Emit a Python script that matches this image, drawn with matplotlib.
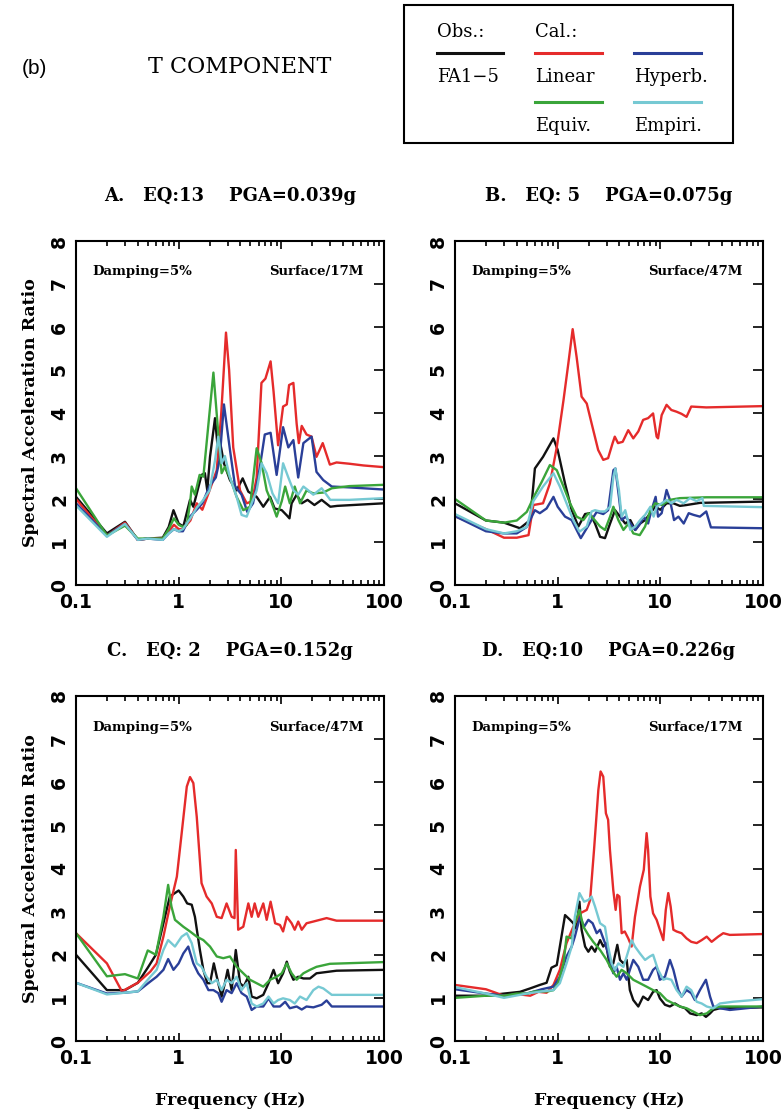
import matplotlib.pyplot as plt
from matplotlib.lines import Line2D
from matplotlib.patches import Rectangle

# colours of the five curves
c_obs = '#111111'
c_lin = '#e52b2b'
c_hyp = '#2a3f98'
c_equ = '#3aa53a'
c_emp = '#76c9d3'

# ---- panel A : EQ 13 ----
a_obs_f = [0.1, 0.2, 0.3, 0.4, 0.5, 0.7, 0.8, 0.89, 1.0, 1.11, 1.29, 1.39, 1.67, 1.8, 1.9, 2.02, 2.26, 2.43, 2.56,
           2.76, 3.16, 3.67, 4.2, 4.77, 5.75, 6.67, 7.77, 8.6, 10.1, 11.3, 12.0, 12.6, 14.1, 15.8, 18, 21, 24.7, 30, 35, 100]
a_obs_v = [2.05, 1.2, 1.47, 1.05, 1.08, 1.1, 1.35, 1.74, 1.43, 1.36, 1.98, 1.82, 2.56, 2.6, 2.2, 2.98, 3.88, 3.06, 3.26,
           2.83, 2.44, 2.2, 2.48, 2.17, 2.05, 1.82, 2.05, 1.78, 1.74, 1.62, 1.55, 1.9, 2.1, 1.9, 1.98, 1.86, 1.98, 1.82, 1.84, 1.9]
a_lin_f = [0.1, 0.2, 0.3, 0.4, 0.5, 0.7, 0.8, 0.9, 1.0, 1.1, 1.3, 1.5, 1.7, 2.0, 2.35, 2.6, 2.89, 3.1, 3.4, 3.96, 4.6,
           5.2, 5.75, 6.4, 7.0, 7.86, 8.4, 9.3, 10.4, 11.3, 11.9, 13.1, 14.1, 14.8, 15.8, 17.6, 19.7, 22, 25.3, 29.7, 34.5, 46, 63, 100]
a_lin_v = [2.0, 1.15, 1.45, 1.05, 1.08, 1.08, 1.25, 1.4, 1.3, 1.3, 1.5, 1.9, 1.75, 2.2, 2.67, 4.0, 5.87, 5.0, 3.2, 2.2, 1.9,
           1.95, 2.5, 4.7, 4.8, 5.2, 4.5, 3.25, 4.15, 4.2, 4.65, 4.7, 3.75, 3.3, 3.7, 3.5, 3.45, 2.98, 3.3, 2.8, 2.85, 2.82, 2.78, 2.74]
a_hyp_f = [0.1, 0.2, 0.3, 0.4, 0.5, 0.7, 0.8, 0.9, 1.0, 1.1, 1.3, 1.5, 1.7, 2.0, 2.3, 2.5, 2.76, 3.16, 3.54, 4.1, 4.66,
           5.3, 5.96, 6.9, 7.86, 9.0, 10.4, 11.7, 13.1, 14.6, 16.4, 19.7, 22, 25.6, 31, 46, 100]
a_hyp_v = [1.9, 1.15, 1.42, 1.05, 1.08, 1.05, 1.2, 1.3, 1.25, 1.25, 1.6, 1.75, 1.9, 2.3, 2.5, 2.9, 4.2, 3.14, 2.3, 2.1, 1.7,
           1.9, 2.5, 3.5, 3.54, 2.56, 3.67, 3.2, 3.37, 2.5, 3.3, 3.45, 2.63, 2.44, 2.29, 2.27, 2.22]
a_equ_f = [0.1, 0.2, 0.3, 0.4, 0.5, 0.7, 0.8, 0.9, 1.0, 1.1, 1.2, 1.29, 1.34, 1.44, 1.6, 1.74, 2.18, 2.43, 2.62, 2.82,
           3.16, 3.67, 4.26, 4.95, 5.75, 6.43, 7.2, 8.1, 9.0, 10.1, 10.9, 12.1, 13.5, 15.2, 17.6, 20.5, 25.6, 31, 46, 100]
a_equ_v = [2.25, 1.15, 1.38, 1.08, 1.08, 1.08, 1.3, 1.55, 1.4, 1.35, 1.4, 1.9, 2.29, 2.1, 2.56, 2.52, 4.94, 3.53, 2.6, 2.75,
           2.5, 2.05, 1.74, 1.82, 3.18, 2.83, 2.2, 1.9, 1.59, 1.95, 2.29, 1.9, 2.29, 1.9, 2.2, 2.13, 2.15, 2.25, 2.3, 2.33]
a_emp_f = [0.1, 0.2, 0.3, 0.4, 0.5, 0.7, 0.8, 0.9, 1.0, 1.1, 1.3, 1.5, 1.7, 2.0, 2.26, 2.43, 2.62, 2.82, 3.16, 3.67, 4.1,
           4.6, 5.14, 5.75, 6.43, 7.2, 8.2, 9.3, 10.4, 11.7, 13.1, 14.6, 16.4, 18.3, 20.5, 24.7, 30, 46, 100]
a_emp_v = [1.85, 1.12, 1.42, 1.05, 1.08, 1.05, 1.2, 1.3, 1.25, 1.3, 1.55, 1.8, 1.95, 2.2, 2.9, 3.45, 2.83, 3.0, 2.5, 2.05, 1.63,
           1.59, 1.9, 2.2, 2.83, 2.6, 2.13, 1.9, 2.83, 2.5, 2.2, 2.1, 2.29, 2.2, 2.1, 2.25, 1.98, 1.98, 2.02]

# ---- panel B : EQ 5 ----
b_obs_f = [0.1, 0.2, 0.3, 0.43, 0.54, 0.6, 0.72, 0.91, 1.0, 1.18, 1.37, 1.59, 1.85, 2.07, 2.31, 2.59, 2.89, 3.24, 3.62,
           4.05, 4.55, 5.1, 5.7, 6.36, 7.1, 8.0, 8.9, 10, 11.5, 13.4, 15.5, 18, 24.3, 100]
b_obs_v = [1.9, 1.5, 1.45, 1.32, 1.51, 2.71, 2.98, 3.41, 3.14, 2.36, 1.74, 1.36, 1.65, 1.67, 1.43, 1.12, 1.09, 1.43, 1.74,
           1.59, 1.43, 1.51, 1.28, 1.43, 1.51, 1.67, 1.82, 1.75, 1.9, 1.9, 1.84, 1.86, 1.91, 1.94]
b_lin_f = [0.1, 0.2, 0.3, 0.4, 0.52, 0.58, 0.72, 0.84, 0.98, 1.14, 1.27, 1.4, 1.53, 1.71, 1.92, 2.14, 2.48, 2.78, 3.1,
           3.43, 3.6, 3.87, 4.3, 4.87, 5.45, 6.1, 6.8, 7.6, 8.5, 9.2, 9.5, 10.3, 11.5, 12.8, 14.4, 16.1, 18, 20, 28, 100]
b_lin_v = [1.6, 1.3, 1.1, 1.1, 1.16, 1.86, 1.9, 2.36, 3.2, 4.3, 5.15, 5.95, 5.3, 4.38, 4.22, 3.76, 3.14, 2.91, 2.95,
           3.3, 3.45, 3.3, 3.33, 3.6, 3.41, 3.57, 3.84, 3.88, 3.99, 3.45, 3.41, 3.95, 4.19, 4.07, 4.03, 3.98, 3.91, 4.15, 4.13, 4.16]
b_hyp_f = [0.1, 0.2, 0.3, 0.4, 0.5, 0.6, 0.67, 0.78, 0.91, 1.0, 1.18, 1.37, 1.53, 1.68, 1.92, 2.14, 2.4, 2.78, 3.1, 3.49,
           3.65, 3.95, 4.2, 4.6, 5.1, 5.7, 6.36, 6.9, 7.6, 8.2, 9.0, 9.5, 10.3, 11.5, 12.4, 13.6, 15, 16.9, 18.9, 21.1,
           24.3, 28, 31.1, 100]
b_hyp_v = [1.6, 1.25, 1.2, 1.2, 1.35, 1.74, 1.67, 1.78, 2.05, 1.82, 1.59, 1.51, 1.28, 1.09, 1.32, 1.51, 1.7, 1.65, 1.74, 2.67,
           2.71, 2.05, 1.51, 1.59, 1.43, 1.28, 1.43, 1.59, 1.43, 1.74, 2.05, 1.59, 1.67, 2.21, 1.98, 1.51, 1.59, 1.43, 1.67, 1.63,
           1.59, 1.71, 1.34, 1.32]
b_equ_f = [0.1, 0.2, 0.3, 0.4, 0.5, 0.6, 0.7, 0.84, 0.98, 1.14, 1.32, 1.53, 1.78, 1.99, 2.22, 2.59, 2.89, 3.24, 3.49, 3.9,
           4.37, 4.9, 5.45, 6.3, 7.1, 8.0, 8.9, 10.3, 12.4, 15.5, 28, 100]
b_equ_v = [2.0, 1.5, 1.45, 1.5, 1.7, 2.1, 2.4, 2.79, 2.67, 2.29, 1.9, 1.59, 1.51, 1.67, 1.55, 1.36, 1.28, 1.59, 1.82, 1.51,
           1.28, 1.43, 1.2, 1.16, 1.36, 1.74, 1.9, 1.86, 1.98, 2.02, 2.04, 2.04]
b_emp_f = [0.1, 0.2, 0.3, 0.4, 0.5, 0.58, 0.72, 0.91, 1.05, 1.22, 1.42, 1.63, 1.92, 2.14, 2.31, 2.59, 2.89, 3.24, 3.49,
           3.65, 3.95, 4.2, 4.55, 5.1, 5.7, 6.36, 7.1, 8.0, 8.6, 9.2, 10.3, 11.5, 12.8, 14.4, 16.9, 19.4, 22.6, 25.7, 26.5, 100]
b_emp_v = [1.65, 1.3, 1.2, 1.25, 1.35, 1.95, 2.29, 2.6, 2.29, 1.9, 1.51, 1.24, 1.36, 1.71, 1.74, 1.71, 1.71, 1.82, 2.52,
           2.71, 2.21, 1.59, 1.74, 1.28, 1.36, 1.51, 1.63, 1.82, 1.59, 1.82, 1.9, 1.98, 1.9, 1.98, 1.9, 2.02, 1.95, 2.02, 1.84, 1.81]

# ---- panel C : EQ 2 ----
c_obs_f = [0.1, 0.2, 0.3, 0.4, 0.5, 0.6, 0.71, 0.82, 1.0, 1.11, 1.21, 1.34, 1.44, 1.61, 1.74, 1.9, 2.02, 2.2, 2.43, 2.62,
           2.82, 3.0, 3.28, 3.6, 3.96, 4.3, 4.77, 5.14, 5.75, 6.67, 7.5, 8.4, 9.3, 10.4, 11.3, 12.1, 13.1, 14.6, 16.4, 19,
           22, 34.5, 100]
c_obs_v = [2.0, 1.18, 1.18, 1.35, 1.7, 2.0, 2.73, 3.35, 3.49, 3.35, 3.19, 3.16, 2.88, 2.11, 1.65, 1.34, 1.34, 1.8, 1.34, 1.03,
           1.34, 1.65, 1.18, 2.11, 1.34, 1.26, 1.49, 1.03, 0.99, 1.07, 1.34, 1.65, 1.34, 1.57, 1.84, 1.61, 1.42, 1.49, 1.45, 1.45,
           1.57, 1.63, 1.65]
c_lin_f = [0.1, 0.2, 0.28, 0.4, 0.53, 0.61, 0.71, 0.82, 0.96, 1.07, 1.2, 1.29, 1.39, 1.5, 1.67, 1.87, 2.1, 2.35, 2.62,
           2.93, 3.28, 3.5, 3.6, 3.8, 4.26, 4.77, 5.14, 5.5, 5.96, 6.67, 7.2, 7.86, 8.7, 9.7, 10.4, 11.3, 12.6, 13.5, 14.6,
           15.8, 17.6, 20.5, 27.6, 34.5, 100]
c_lin_v = [2.5, 1.8, 1.15, 1.35, 1.61, 1.8, 2.42, 3.12, 3.81, 4.82, 5.9, 6.12, 5.98, 5.2, 3.66, 3.35, 3.19, 2.88, 2.85,
           3.19, 2.88, 2.85, 4.43, 2.58, 2.65, 3.19, 2.88, 3.19, 2.88, 3.19, 2.81, 3.23, 2.73, 2.69, 2.54, 2.88, 2.73, 2.58, 2.77,
           2.58, 2.73, 2.77, 2.85, 2.79, 2.79]
c_hyp_f = [0.1, 0.2, 0.3, 0.4, 0.53, 0.61, 0.71, 0.79, 0.89, 1.0, 1.11, 1.24, 1.39, 1.55, 1.74, 1.95, 2.18, 2.43, 2.62,
           2.93, 3.28, 3.67, 4.1, 4.6, 5.14, 5.75, 6.67, 7.5, 8.4, 9.7, 10.9, 12.1, 14.1, 15.8, 17.6, 20.5, 24.7, 27.6, 31, 100]
c_hyp_v = [1.35, 1.1, 1.12, 1.15, 1.38, 1.49, 1.65, 1.9, 1.65, 1.8, 2.03, 2.19, 1.8, 1.57, 1.42, 1.18, 1.18, 1.11, 0.91,
           1.18, 1.11, 1.34, 1.11, 1.03, 0.72, 0.8, 0.8, 0.99, 0.8, 0.8, 0.91, 0.76, 0.8, 0.73, 0.8, 0.78, 0.84, 0.94, 0.8, 0.8]
c_equ_f = [0.1, 0.2, 0.3, 0.4, 0.5, 0.6, 0.71, 0.79, 0.85, 0.92, 1.11, 1.29, 1.5, 1.74, 2.02, 2.35, 2.72, 3.16, 3.67,
           4.26, 4.95, 5.75, 6.67, 7.77, 9.0, 10.1, 11.3, 12.6, 14.1, 16.4, 19, 22, 29.7, 100]
c_equ_v = [2.5, 1.5, 1.55, 1.45, 2.1, 2.0, 2.88, 3.62, 3.12, 2.81, 2.65, 2.54, 2.42, 2.34, 2.19, 1.96, 1.92, 1.96, 1.72,
           1.57, 1.42, 1.34, 1.26, 1.42, 1.49, 1.57, 1.8, 1.57, 1.42, 1.57, 1.65, 1.72, 1.79, 1.83]
c_emp_f = [0.1, 0.2, 0.3, 0.4, 0.53, 0.61, 0.71, 0.79, 0.92, 1.07, 1.2, 1.34, 1.5, 1.67, 1.87, 2.1, 2.35, 2.62, 2.93,
           3.28, 3.67, 4.1, 4.6, 5.14, 5.75, 6.67, 7.5, 8.4, 9.3, 10.4, 12.1, 13.5, 15.2, 17.6, 20.5, 23, 25.6, 31, 100]
c_emp_v = [1.35, 1.08, 1.12, 1.15, 1.49, 1.65, 2.11, 2.34, 2.19, 2.42, 2.5, 2.27, 1.8, 1.72, 1.49, 1.34, 1.42, 1.18, 1.42,
           1.34, 1.49, 1.18, 1.34, 0.87, 0.8, 0.87, 1.03, 0.87, 0.95, 0.99, 0.95, 0.87, 1.03, 0.95, 1.18, 1.26, 1.22, 1.07, 1.07]

# ---- panel D : EQ 10 ----
d_obs_f = [0.1, 0.2, 0.3, 0.43, 0.54, 0.67, 0.78, 0.87, 0.98, 1.05, 1.18, 1.32, 1.42, 1.53, 1.63, 1.71, 1.85, 1.99, 2.14,
           2.31, 2.59, 2.78, 2.95, 3.23, 3.48, 3.81, 4.05, 4.37, 4.7, 5.05, 5.45, 6.1, 6.8, 7.6, 8.5, 9.2, 9.9, 11.1, 12.4,
           13.9, 15.5, 17.4, 19.5, 22.6, 25.3, 27.8, 30.5, 32.8, 38, 100]
d_obs_v = [1.05, 1.05, 1.1, 1.14, 1.22, 1.3, 1.35, 1.7, 1.76, 2.19, 2.92, 2.81, 2.73, 2.6, 3.23, 2.58, 2.19, 2.07, 2.19,
           2.07, 2.34, 2.19, 2.27, 1.72, 1.8, 2.23, 1.88, 1.8, 1.88, 1.18, 0.95, 0.8, 1.03, 0.95, 1.14, 1.18, 0.99, 0.84, 0.8,
           0.87, 0.8, 0.76, 0.64, 0.6, 0.64, 0.56, 0.64, 0.72, 0.76, 0.78]
d_lin_f = [0.1, 0.2, 0.3, 0.43, 0.54, 0.65, 0.78, 0.91, 1.05, 1.22, 1.42, 1.65, 1.92, 2.07, 2.26, 2.49, 2.62, 2.78, 2.95,
           3.1, 3.23, 3.48, 3.67, 3.81, 3.99, 4.2, 4.5, 4.87, 5.25, 5.66, 6.33, 6.9, 7.35, 7.6, 8.0, 8.5, 9.2, 9.9, 10.7, 11.3,
           11.95, 12.6, 13.4, 14.4, 16.1, 18, 20, 22.6, 25.3, 28.3, 31.6, 36.6, 41, 47.5, 100]
d_lin_v = [1.3, 1.2, 1.05, 1.08, 1.05, 1.14, 1.12, 1.3, 1.65, 2.27, 2.65, 2.96, 3.04, 3.27, 4.43, 5.82, 6.25, 6.13, 5.28,
           5.13, 4.43, 3.5, 3.04, 3.39, 3.35, 2.5, 2.54, 2.38, 2.19, 2.88, 3.58, 3.97, 4.82, 4.43, 3.35, 2.96, 2.81, 2.58, 2.34,
           3.04, 3.43, 3.12, 2.58, 2.54, 2.5, 2.38, 2.3, 2.27, 2.34, 2.42, 2.3, 2.42, 2.5, 2.46, 2.48]
d_hyp_f = [0.1, 0.2, 0.3, 0.5, 0.7, 0.91, 1.05, 1.22, 1.37, 1.47, 1.65, 1.81, 1.99, 2.19, 2.4, 2.59, 2.89, 3.1, 3.48,
           3.75, 4.05, 4.37, 4.7, 5.05, 5.45, 6.1, 6.8, 7.6, 8.5, 9.2, 9.9, 11.1, 12.4, 13.4, 15, 16.1, 18, 20, 21.7, 24.3,
           27.8, 30.5, 32.8, 38, 47.5, 100]
d_hyp_v = [1.2, 1.1, 1.05, 1.1, 1.2, 1.26, 1.49, 1.96, 2.19, 2.42, 2.88, 2.65, 2.81, 2.73, 2.5, 2.58, 2.27, 2.03, 1.57,
           1.72, 1.42, 1.57, 1.42, 1.65, 1.88, 1.72, 1.42, 1.42, 1.65, 1.72, 1.42, 1.49, 1.88, 1.65, 1.18, 1.03, 1.18, 1.11,
           0.95, 1.18, 1.42, 1.03, 0.8, 0.76, 0.72, 0.8]
d_equ_f = [0.1, 0.2, 0.3, 0.4, 0.5, 0.6, 0.8, 0.91, 1.01, 1.14, 1.22, 1.37, 1.47, 1.63, 1.78, 1.99, 2.22, 2.59, 3.0, 3.36,
           3.75, 4.2, 4.7, 5.45, 6.33, 7.35, 8.5, 9.9, 11.5, 13.4, 15.5, 18, 21, 24.3, 28.3, 32.8, 38, 100]
d_equ_v = [1.0, 1.05, 1.05, 1.1, 1.1, 1.15, 1.15, 1.18, 1.34, 1.8, 2.42, 2.38, 2.73, 3.04, 2.65, 2.46, 2.3, 2.11, 1.88,
           1.65, 1.49, 1.65, 1.57, 1.42, 1.34, 1.26, 1.18, 1.11, 0.95, 0.87, 0.8, 0.76, 0.68, 0.6, 0.64, 0.76, 0.8, 0.8]
d_emp_f = [0.1, 0.2, 0.3, 0.5, 0.7, 0.91, 1.05, 1.22, 1.37, 1.47, 1.63, 1.81, 1.99, 2.14, 2.31, 2.59, 2.89, 3.1, 3.36,
           3.62, 3.9, 4.37, 4.7, 5.25, 5.66, 6.33, 7.1, 7.9, 8.5, 9.5, 10.7, 11.5, 12.8, 14.4, 16.1, 18, 20, 22.6, 25.3, 28.3,
           32.8, 38, 51, 100]
d_emp_v = [1.25, 1.1, 1.0, 1.1, 1.15, 1.18, 1.34, 1.8, 2.19, 2.88, 3.43, 3.23, 3.27, 3.35, 3.12, 2.73, 2.65, 2.19, 1.8,
           1.65, 1.8, 1.72, 1.96, 2.34, 2.19, 2.03, 1.88, 1.96, 2.0, 1.65, 1.42, 1.45, 1.42, 1.18, 1.03, 1.26, 1.18, 0.91, 0.87,
           0.8, 0.76, 0.87, 0.91, 0.97]

titles = ['A.   EQ:13    PGA=0.039g', 'B.   EQ: 5    PGA=0.075g',
          'C.   EQ: 2    PGA=0.152g', 'D.   EQ:10    PGA=0.226g']
sites = ['Surface/17M', 'Surface/47M', 'Surface/47M', 'Surface/17M']
x_ticks = [0.1, 1, 10, 100]
x_labels = ['0.1', '1', '10', '100']
y_ticks = [0, 1, 2, 3, 4, 5, 6, 7, 8]

panels = [
    [(a_obs_f, a_obs_v), (a_lin_f, a_lin_v), (a_hyp_f, a_hyp_v), (a_equ_f, a_equ_v), (a_emp_f, a_emp_v)],
    [(b_obs_f, b_obs_v), (b_lin_f, b_lin_v), (b_hyp_f, b_hyp_v), (b_equ_f, b_equ_v), (b_emp_f, b_emp_v)],
    [(c_obs_f, c_obs_v), (c_lin_f, c_lin_v), (c_hyp_f, c_hyp_v), (c_equ_f, c_equ_v), (c_emp_f, c_emp_v)],
    [(d_obs_f, d_obs_v), (d_lin_f, d_lin_v), (d_hyp_f, d_hyp_v), (d_equ_f, d_equ_v), (d_emp_f, d_emp_v)],
]
colors = [c_obs, c_lin, c_hyp, c_equ, c_emp]

W, H = 784, 1114
fig = plt.figure(figsize=(W / 100, H / 100), dpi=100)

# axes boxes in pixels: left, top, right, bottom
boxes = [(76, 241, 384, 585), (455, 241, 763, 585), (76, 696, 384, 1041), (455, 696, 763, 1041)]

serif = 'DejaVu Serif'
for i, (l, t, r, b) in enumerate(boxes):
    ax = fig.add_axes([l / W, 1 - b / H, (r - l) / W, (b - t) / H])
    for (f, v), col in zip(panels[i], colors):
        ax.plot(f, v, color=col, lw=1.7)
    ax.set_xscale('log')
    ax.set_xlim(0.1, 100)
    ax.set_ylim(0, 8)
    ax.set_xticks(x_ticks)
    ax.set_xticklabels(x_labels, fontsize=13.5, fontweight='bold')
    ax.set_yticks(y_ticks)
    ax.set_yticklabels([str(k) for k in y_ticks], fontsize=13.5, fontweight='bold', rotation=90, va='center')
    ax.tick_params(axis='x', which='major', direction='in', top=True, bottom=True, length=6, width=1.2, pad=6)
    ax.tick_params(axis='x', which='minor', direction='in', top=True, bottom=True, length=3.5, width=1.2)
    ax.tick_params(axis='y', direction='in', left=False, right=True, labelleft=True, length=7, width=1.2, pad=5)
    for s in ax.spines.values():
        s.set_linewidth(1.5)
    ax.set_title(titles[i], fontsize=13, fontweight='bold', family=serif, pad=29)
    ax.text(0.052, 0.91, 'Damping=5%', transform=ax.transAxes, fontsize=9.5, fontweight='bold',
            family=serif, va='center', ha='left')
    ax.text(0.932, 0.91, sites[i], transform=ax.transAxes, fontsize=9.5, fontweight='bold',
            family=serif, va='center', ha='right')
    if i % 2 == 0:
        ax.set_ylabel('Spectral Acceleration Ratio', fontsize=12.5, fontweight='bold', family=serif, labelpad=8)
    if i >= 2:
        ax.set_xlabel('Frequency (Hz)', fontsize=12.5, fontweight='bold', family=serif, labelpad=17)

# header texts
fig.text(22 / W, 1 - 69 / H, '(b)', fontsize=15, family='Liberation Sans', ha='left', va='center')
fig.text(240 / W, 1 - 67 / H, 'T COMPONENT', fontsize=16, family=serif, ha='center', va='center')

# legend box
fig.add_artist(Rectangle((404 / W, 1 - 143 / H), 329 / W, 138 / H, transform=fig.transFigure,
                         fill=False, lw=1.5, ec='black'))
leg_lines = [(437, 503, 53, c_obs), (535, 602, 53, c_lin), (634, 701, 53, c_hyp),
             (535, 602, 102, c_equ), (634, 701, 102, c_emp)]
for x0, x1, y, col in leg_lines:
    fig.add_artist(Line2D([x0 / W, x1 / W], [1 - y / H, 1 - y / H], transform=fig.transFigure, color=col, lw=2.2))
leg_texts = [(437, 32, 'Obs.:'), (535, 32, 'Cal.:'), (437, 77, 'FA1\u22125'), (535, 77, 'Linear'),
             (634, 77, 'Hyperb.'), (535, 126, 'Equiv.'), (634, 126, 'Empiri.')]
for x, y, s in leg_texts:
    fig.text(x / W, 1 - y / H, s, fontsize=13, family=serif, ha='left', va='center')

fig.savefig('out.png', dpi=100)
